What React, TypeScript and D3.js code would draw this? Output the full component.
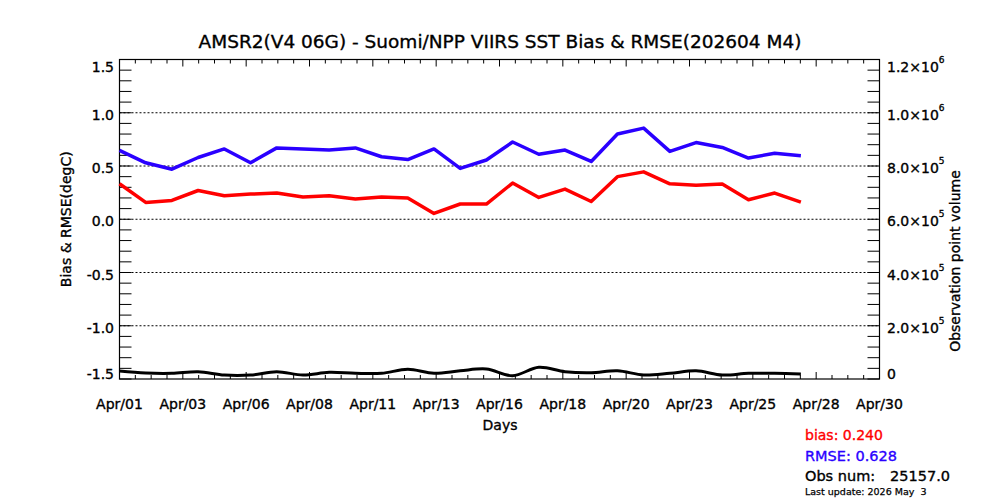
import * as d3 from "d3";

// daily values (Apr 1 .. Apr 27)
const days = [1, 2, 3, 4, 5, 6, 7, 8, 9, 10, 11, 12, 13, 14, 15, 16, 17, 18, 19, 20, 21, 22, 23, 24, 25, 26, 27];
const bias = [0.333, 0.158, 0.177, 0.27, 0.22, 0.236, 0.246, 0.208, 0.22, 0.19, 0.208, 0.2, 0.055, 0.143, 0.143, 0.34, 0.205, 0.283, 0.167, 0.4, 0.445, 0.333, 0.32, 0.33, 0.183, 0.246, 0.16];
const rmse = [0.646, 0.53, 0.47, 0.58, 0.66, 0.53, 0.67, 0.66, 0.65, 0.67, 0.587, 0.56, 0.66, 0.477, 0.556, 0.725, 0.61, 0.65, 0.543, 0.8, 0.856, 0.637, 0.72, 0.674, 0.575, 0.62, 0.596];
const obsCount = [30000, 22500, 21400, 27400, 15000, 15000, 27400, 15000, 25000, 21400, 21400, 36400, 21400, 30800, 37600, 12400, 43900, 27400, 23700, 30800, 15000, 21400, 30800, 15000, 21400, 21400, 18800];

const xTickLabels = ["Apr/01", "Apr/03", "Apr/06", "Apr/08", "Apr/11", "Apr/13", "Apr/16", "Apr/18", "Apr/20", "Apr/23", "Apr/25", "Apr/28", "Apr/30"];
const leftTicks = [-1.5, -1.0, -0.5, 0.0, 0.5, 1.0, 1.5];
const leftTickLabels = ["-1.5", "-1.0", "-0.5", "0.0", "0.5", "1.0", "1.5"];
const rightTicks = [0, 200000, 400000, 600000, 800000, 1000000, 1200000];
const rightMantissa = ["0", "2.0", "4.0", "6.0", "8.0", "1.0", "1.2"];
const rightExponent = ["", "5", "5", "5", "5", "6", "6"];

const titleText = "AMSR2(V4 06G) - Suomi/NPP VIIRS SST Bias & RMSE(202604 M4)";
const biasMean = "0.240";
const rmseMean = "0.628";
const obsTotal = "25157.0";
const lastUpdate = "Last update: 2026 May  3";

const BLUE = "#2a00ff";
const RED = "#ff0000";

export default function App() {
  const W = 1000;
  const H = 500;
  const m = { left: 119.5, right: 879.5, top: 59.5, bottom: 379 };

  const x = d3.scaleLinear().domain([1, 30]).range([m.left, m.right]);
  const y = d3.scaleLinear().domain([-1.5, 1.5]).range([m.bottom, m.top]);
  const y2 = d3.scaleLinear().domain([0, 1200000]).range([m.bottom, m.top]);

  // 12 major intervals on x, 4 minor per major
  const xMajor = xTickLabels.map((_, i) => 1 + (i * 29) / 12);
  const xMinor = d3.range(0, 49).map((i) => 1 + (i * 29) / 48);
  const yMinor = d3.range(-15, 16).map((i) => i / 10);
  const y2Minor = d3.range(0, 31).map((i) => i * 40000);

  const statLine = d3
    .line<number>()
    .x((_, i) => x(days[i]))
    .y((d) => y(d));
  const countLine = d3
    .line<number>()
    .x((_, i) => x(days[i]))
    .y((d) => y2(d))
    .curve(d3.curveCatmullRom);

  // IDL keeps the end labels inside the box
  const labelY = (py: number) => Math.min(Math.max(py + 2, m.top + 7), m.bottom - 5);

  const ink = { stroke: "currentColor", strokeWidth: 0.35 };

  return (
    <svg
      width={W}
      height={H}
      viewBox={`0 0 ${W} ${H}`}
      style={{ position: "absolute", left: 0, top: 0, background: "#fff" }}
      fontFamily="'DejaVu Sans', sans-serif"
    >
      <rect x={0} y={0} width={W} height={H} fill="#fff" />

      <text x={500} y={48} textAnchor="middle" fontSize={18.5} {...ink}>
        {titleText}
      </text>

      {/* dotted grid at majors */}
      {leftTicks.slice(1, -1).map((v) => (
        <line
          key={"g" + v}
          x1={m.left}
          x2={m.right}
          y1={y(v)}
          y2={y(v)}
          stroke="#000"
          strokeWidth={1}
          strokeDasharray="2,2"
        />
      ))}

      {/* left minor ticks */}
      {yMinor.map((v) => (
        <line key={"lm" + v} x1={m.left} x2={m.left + 12} y1={y(v)} y2={y(v)} stroke="#000" strokeWidth={1} />
      ))}
      {/* right ticks */}
      {y2Minor.map((v) => (
        <line key={"rm" + v} x1={m.right - 12} x2={m.right} y1={y2(v)} y2={y2(v)} stroke="#000" strokeWidth={1} />
      ))}
      {/* bottom and top ticks */}
      {xMinor.map((v, i) => {
        const len = i % 4 === 0 ? 7 : 4;
        return (
          <g key={"xm" + i}>
            <line x1={x(v)} x2={x(v)} y1={m.bottom} y2={m.bottom - len} stroke="#000" strokeWidth={1} />
            <line x1={x(v)} x2={x(v)} y1={m.top} y2={m.top + len} stroke="#000" strokeWidth={1} />
          </g>
        );
      })}

      {/* frame */}
      <rect
        x={m.left}
        y={m.top}
        width={m.right - m.left}
        height={m.bottom - m.top}
        fill="none"
        stroke="#000"
        strokeWidth={1.2}
      />

      {/* series */}
      <path d={statLine(rmse) ?? undefined} fill="none" stroke={BLUE} strokeWidth={3.5} strokeLinejoin="round" />
      <path d={statLine(bias) ?? undefined} fill="none" stroke={RED} strokeWidth={3.5} strokeLinejoin="round" />
      <path d={countLine(obsCount) ?? undefined} fill="none" stroke="#000" strokeWidth={3} strokeLinejoin="round" />

      <g color="#000">
        {/* left labels */}
        {leftTicks.map((v, i) => (
          <text key={"ll" + v} x={114} y={labelY(y(v))} textAnchor="end" dominantBaseline="central" fontSize={14} {...ink}>
            {leftTickLabels[i]}
          </text>
        ))}
        {/* right labels */}
        {rightTicks.map((v, i) => (
          <text key={"rl" + v} x={887} y={labelY(y2(v))} dominantBaseline="central" fontSize={14} {...ink}>
            {rightMantissa[i]}
            {rightExponent[i] !== "" && (
              <>
                {"\u00d710"}
                <tspan fontSize={9} dy={-7}>
                  {rightExponent[i]}
                </tspan>
              </>
            )}
          </text>
        ))}
        {/* x labels */}
        {xMajor.map((v, i) => (
          <text key={"xl" + i} x={x(v)} y={409} textAnchor="middle" fontSize={14} {...ink}>
            {xTickLabels[i]}
          </text>
        ))}

        <text x={500} y={430} textAnchor="middle" fontSize={14} {...ink}>
          Days
        </text>
        <text transform={`translate(71,${y(0)}) rotate(-90)`} textAnchor="middle" fontSize={14} {...ink}>
          Bias &amp; RMSE(degC)
        </text>
        <text transform="translate(960,261) rotate(-90)" textAnchor="middle" fontSize={14} {...ink}>
          Observation point volume
        </text>
      </g>

      {/* summary */}
      <text x={805} y={440} fontSize={14} fill={RED} color={RED} {...ink}>
        bias: {biasMean}
      </text>
      <text x={805} y={461} fontSize={14.5} fill={BLUE} color={BLUE} {...ink}>
        RMSE: {rmseMean}
      </text>
      <g color="#000">
        <text x={805} y={481} fontSize={14.5} {...ink}>
          Obs num:
        </text>
        <text x={950} y={481} fontSize={14.5} textAnchor="end" {...ink}>
          {obsTotal}
        </text>
        <text x={805} y={495} fontSize={9.5} style={{ whiteSpace: "pre" }} {...ink} strokeWidth={0.25}>
          {lastUpdate}
        </text>
      </g>
    </svg>
  );
}
